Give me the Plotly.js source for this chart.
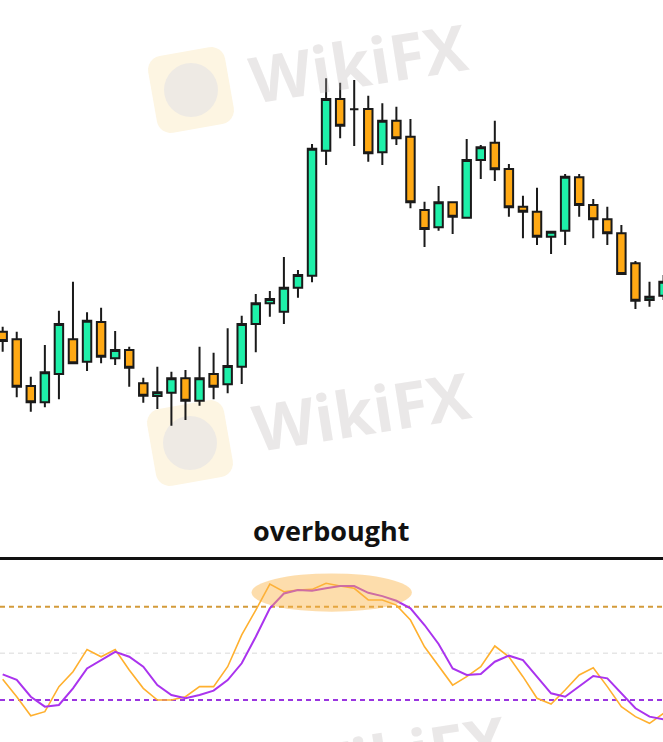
<!DOCTYPE html>
<html>
<head>
<meta charset="utf-8">
<script src="https://cdn.plot.ly/plotly-3.0.1.min.js"></script>
<style>html,body{margin:0;padding:0;background:#fff;}#chart{width:663px;height:742px;}</style>
</head>
<body>
<div id="chart"></div>
<script>
// ---- Candle data (arbitrary price units) ----
const openP  = [168.3,160.7,114,97.7,126,160.7,138.3,178,141.7,150,116.7,104,107.3,121.7,99.3,126,115.7,133.3,176,196.7,188.3,212.3,224.3,349.3,401,390.7,391,347.7,379.3,363.3,290,272.7,297.7,282.3,340,357.3,331,293.3,288.3,263.3,269.3,322.7,295,280.7,266.7,236.7,200,204.3];
const highP  = [173.3,168.3,123.3,155,189.3,218.3,187.7,192.3,169,153.3,122.3,133.3,128.3,130,153.3,147.3,171.7,184.3,206,209,243,230,356,421.7,417.3,420,404.3,396.7,393.3,381,298.3,314,297.7,361,355,379.3,336,304.3,312.3,269,326,326,301,293.3,275,239,218.3,225];
const lowP   = [148.3,102.7,88.3,92.7,100.7,136.7,129,136.7,135,113.3,97.3,91,74.3,80,94.3,100.7,106.7,116,147.7,183.3,176,202.3,217.7,335,361.7,354,338.3,335,355,291.7,253,269.3,266,282.3,321,319,283.3,261.7,255,246,255,283.3,261.7,255,226,191,193.3,200];
const closeP = [159,113.3,97.7,127.7,176,136.7,179.3,143.3,150,132.3,104.3,107.7,121.7,99.3,121.7,113.3,134,176,196.7,201,212.3,225,351.3,401,374.3,390.7,346.7,379.3,361.7,297.7,271,297.7,283.3,340,352.7,330.7,292.7,288.3,263.3,268.3,323.3,295,280.7,266.7,226,199.3,203.3,218.3];

// ---- Stochastic oscillator ----
const stochK = [33.3,22.1,9.9,12.5,28.6,38.2,52.5,47.8,52.5,39.3,27.5,20.0,20.0,22.1,28.6,28.6,41.4,61.8,77.8,94.5,89.6,90.7,91.1,95.0,93.3,91.8,84.3,84.3,81.0,71.4,54.2,41.6,29.6,35.0,41.4,54.7,47.8,35.0,21.1,17.4,26.4,36.1,40.7,28.6,15.7,9.3,5.0,11.4];
const stochD = [36.5,32.9,22.1,15.7,16.8,27.5,40.3,45.7,51.0,47.8,41.4,29.6,23.2,21.1,23.2,26.0,32.8,43.6,60.7,78.9,88.5,90.7,90.2,91.8,93.3,93.3,88.9,86.8,83.8,78.9,68.2,56.0,40.3,36.1,36.7,44.6,48.5,45.7,35.0,24.3,22.1,28.6,35.4,33.9,24.3,14.7,9.3,7.6];
const levels = [80, 50, 20];
const levelColors = ['#d39b3a', '#e6e6e6', '#9a35e0'];
const panelTitle = 'overbought';
const watermark = 'WikiFX';

const xs = openP.map((_, i) => i);

const W = 663, H = 742;
const px = v => v / W;
const py = v => 1 - v / H;

const traces = [
  {
    type: 'candlestick', x: xs, open: openP, high: highP, low: lowP, close: closeP,
    xaxis: 'x', yaxis: 'y',
    increasing: {fillcolor: '#1ef0a9', line: {color: '#1a1a1a', width: 2}},
    decreasing: {fillcolor: '#ffa914', line: {color: '#1a1a1a', width: 2}},
    whiskerwidth: 0, hoverinfo: 'skip'
  },
  {
    type: 'scatter', mode: 'lines', x: xs, y: stochK, xaxis: 'x', yaxis: 'y2',
    line: {color: '#ffb02e', width: 1.6}, hoverinfo: 'skip'
  },
  {
    type: 'scatter', mode: 'lines', x: xs, y: stochD, xaxis: 'x', yaxis: 'y2',
    line: {color: '#aa33ee', width: 2}, hoverinfo: 'skip'
  }
];

// Logo-like rounded squares for the watermark
function roundedSquare(cx, cy, s, r, angDeg) {
  const a = angDeg * Math.PI / 180;
  const h = s / 2;
  const corners = [[h - r, -h + r, -90], [h - r, h - r, 0], [-h + r, h - r, 90], [-h + r, -h + r, 180]];
  const pts = [];
  corners.forEach(([ccx, ccy, start]) => {
    for (let k = 0; k <= 6; k++) {
      const t = (start + 15 * k) * Math.PI / 180;
      pts.push([ccx + r * Math.cos(t), ccy + r * Math.sin(t)]);
    }
  });
  return 'M ' + pts.map(([dx, dy]) => {
    const rx = dx * Math.cos(a) + dy * Math.sin(a);
    const ry = -dx * Math.sin(a) + dy * Math.cos(a);
    return px(cx + rx).toFixed(5) + ',' + py(cy + ry).toFixed(5);
  }).join(' L ') + ' Z';
}

const shapes = [];
[[191, 90], [190, 443]].forEach(([cx, cy]) => {
  shapes.push({type: 'path', xref: 'paper', yref: 'paper', layer: 'below',
    path: roundedSquare(cx, cy, 78, 14, 10), fillcolor: '#fdf5e2', line: {width: 0}});
  shapes.push({type: 'circle', xref: 'paper', yref: 'paper', layer: 'below',
    x0: px(cx - 27), x1: px(cx + 27), y0: py(cy + 27), y1: py(cy - 27),
    fillcolor: '#eeeae4', line: {width: 0}});
});

levels.forEach((lv, i) => {
  shapes.push({type: 'line', xref: 'paper', yref: 'y2', x0: 0, x1: 1, y0: lv, y1: lv,
    layer: 'below', line: {color: levelColors[i], width: i === 1 ? 1.5 : 2, dash: '5px,4px'}});
});
// separator line under the title
shapes.push({type: 'line', xref: 'paper', yref: 'paper', x0: 0, x1: 1, y0: py(558.5), y1: py(558.5),
  line: {color: '#111111', width: 3}});
// highlight of the overbought zone
shapes.push({type: 'circle', xref: 'x', yref: 'y2', layer: 'above',
  x0: 17.7, x1: 29.1, y0: 76.7, y1: 101.4,
  fillcolor: 'rgba(250,180,70,0.45)', line: {width: 0}});

const annotations = [
  {text: panelTitle, xref: 'paper', yref: 'paper', x: 0.5, y: py(530), showarrow: false,
   xanchor: 'center', yanchor: 'middle',
   font: {family: 'Open Sans, Noto Sans, sans-serif', size: 27, color: '#111111', weight: 700}}
];
[[358, 63], [362, 410], [398, 754]].forEach(([cx, cy]) => {
  annotations.push({text: watermark, xref: 'paper', yref: 'paper', x: px(cx), y: py(cy),
    showarrow: false, xanchor: 'center', yanchor: 'middle', textangle: -9,
    font: {family: 'Open Sans, sans-serif', size: 64, color: 'rgba(190,184,184,0.32)', weight: 700}});
});

const layout = {
  width: W, height: H,
  margin: {l: 0, r: 0, t: 0, b: 0},
  paper_bgcolor: '#ffffff', plot_bgcolor: '#ffffff',
  showlegend: false,
  boxgap: 0.3,
  boxgroupgap: 0.14,
  xaxis: {range: [-0.19, 46.96], visible: false, showgrid: false, zeroline: false,
          rangeslider: {visible: false}, fixedrange: true},
  yaxis: {domain: [1 - 500 / H, 1], range: [0, 500], visible: false, showgrid: false, zeroline: false, fixedrange: true},
  yaxis2: {domain: [0, 182 / H], range: [-7, 110], visible: false, showgrid: false, zeroline: false, anchor: 'x', fixedrange: true},
  shapes: shapes,
  annotations: annotations
};

Plotly.newPlot('chart', traces, layout, {staticPlot: true, displayModeBar: false});
</script>
</body>
</html>
